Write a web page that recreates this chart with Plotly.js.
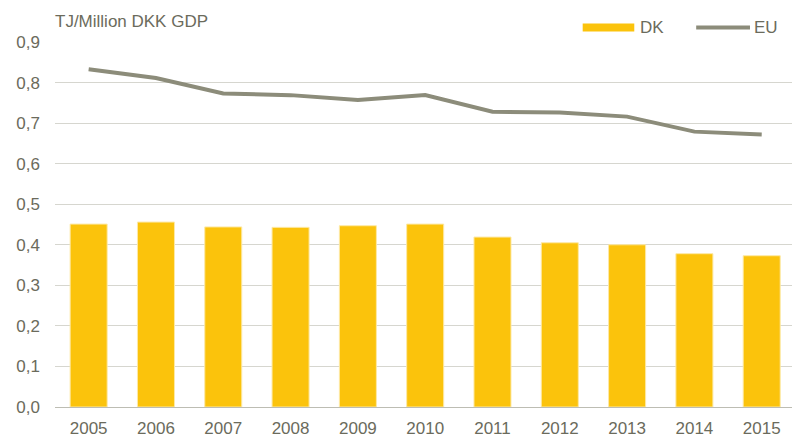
<!DOCTYPE html>
<html><head><meta charset="utf-8">
<script src="https://cdn.plot.ly/plotly-3.0.1.min.js"></script>
<style>html,body{margin:0;padding:0;background:#fff}#chart{width:792px;height:441px}</style>
</head><body><div id="chart"></div>
<script>
const years = ["2005","2006","2007","2008","2009","2010","2011","2012","2013","2014","2015"];
const dkValues = [0.451, 0.456, 0.444, 0.443, 0.447, 0.451, 0.419, 0.405, 0.400, 0.378, 0.373];
const euValues = [0.833, 0.811, 0.773, 0.769, 0.757, 0.769, 0.728, 0.726, 0.716, 0.679, 0.672];
const yTicks = [0, 0.1, 0.2, 0.3, 0.4, 0.5, 0.6, 0.7, 0.8, 0.9];
const unitLabel = "TJ/Million DKK GDP";
const seriesNames = ["DK", "EU"];

const FONT = "'Liberation Sans Narrow', 'Arial Narrow', 'Liberation Sans', sans-serif";
const TXT = "#6b6b5c";
const YEL = "#fbc30c";
const GRY = "#8c8c7a";

const traces = [
  {type:"bar", x:years, y:dkValues, name:seriesNames[0], width:0.55,
   marker:{color:YEL, line:{color:"#fde9a6", width:1}}, showlegend:false, hoverinfo:"x+y"},
  {type:"scatter", mode:"lines", x:years, y:euValues, name:seriesNames[1],
   line:{color:GRY, width:4}, showlegend:false}
];

const layout = {
  width:792, height:441,
  margin:{l:55, r:0, t:42, b:34},
  paper_bgcolor:"#fff", plot_bgcolor:"#fff",
  separators:", ",
  font:{family:FONT, size:16, color:TXT},
  xaxis:{type:"category", range:[-0.5, 10.45], showgrid:false, showline:true, linecolor:"#bdbdb3", linewidth:1,
         ticks:"", tickfont:{family:FONT, size:17, color:TXT}, ticklabelstandoff:6, fixedrange:true},
  yaxis:{range:[0, 0.9], tickvals:yTicks, tickformat:".1f", showgrid:true, gridcolor:"#d6d6cf", gridwidth:1,
         zeroline:false, showline:false, ticks:"", tickfont:{family:FONT, size:17, color:TXT}, ticklabelstandoff:14, fixedrange:true},
  bargap:0.45,
  annotations:[
    {text:unitLabel, xref:"paper", yref:"paper", x:-0.003, y:1.055, xanchor:"left", yanchor:"middle", showarrow:false,
     font:{family:FONT, size:17, color:TXT}},
    {text:seriesNames[0], xref:"paper", yref:"paper", x:0.791, y:1.04, xanchor:"left", yanchor:"middle", showarrow:false,
     font:{family:FONT, size:17, color:TXT}},
    {text:seriesNames[1], xref:"paper", yref:"paper", x:0.946, y:1.04, xanchor:"left", yanchor:"middle", showarrow:false,
     font:{family:FONT, size:17, color:TXT}}
  ],
  shapes:[
    {type:"rect", xref:"paper", yref:"paper", x0:0.716, x1:0.786, y0:1.029, y1:1.051, fillcolor:YEL, line:{width:0}},
    {type:"line", xref:"paper", yref:"paper", x0:0.870, x1:0.943, y0:1.040, y1:1.040, line:{color:GRY, width:4}}
  ]
};

Plotly.newPlot("chart", traces, layout, {displayModeBar:false, staticPlot:true});
</script></body></html>
